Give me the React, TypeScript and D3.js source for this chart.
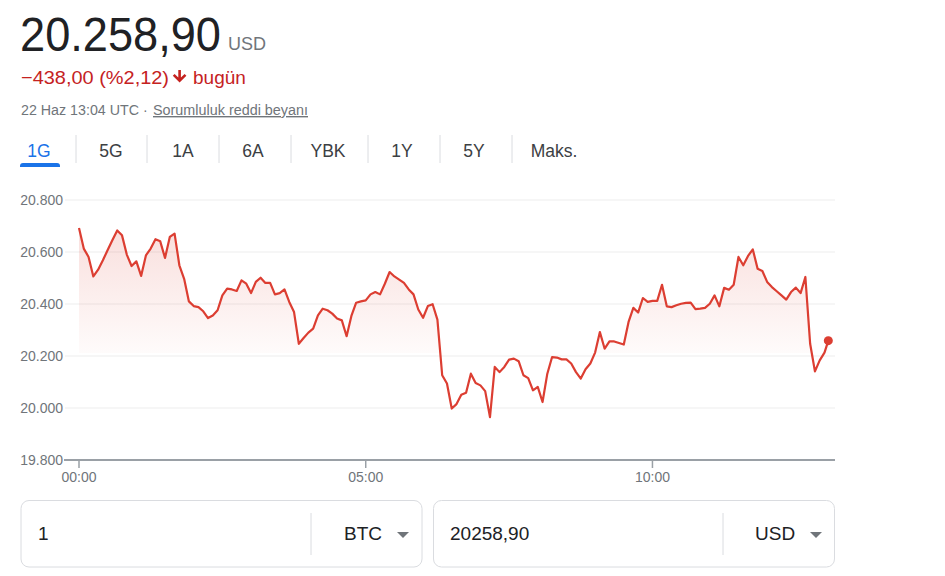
import React from "react";
import * as d3 from "d3";

// minutes since 00:00 UTC, 22 Haz
const minutes: number[] = [
  0, 5, 10, 15, 20, 25, 30, 35, 40, 45, 50, 55, 60, 65, 70, 75, 80, 85, 90, 95,
  100, 105, 110, 115, 120, 125, 130, 135, 140, 145, 150, 155, 160, 165, 170, 175, 180, 185, 190, 195,
  200, 205, 210, 215, 220, 225, 230, 235, 240, 245, 250, 255, 260, 265, 270, 275, 280, 285, 290, 295,
  300, 305, 310, 315, 320, 325, 330, 335, 340, 345, 350, 355, 360, 365, 370, 375, 380, 385, 390, 395,
  400, 405, 410, 415, 420, 425, 430, 435, 440, 445, 450, 455, 460, 465, 470, 475, 480, 485, 490, 495,
  500, 505, 510, 515, 520, 525, 530, 535, 540, 545, 550, 555, 560, 565, 570, 575, 580, 585, 590, 595,
  600, 605, 610, 615, 620, 625, 630, 635, 640, 645, 650, 655, 660, 665, 670, 675, 680, 685, 690, 695,
  700, 705, 710, 715, 720, 725, 730, 735, 740, 745, 750, 755, 760, 765, 770, 775, 780, 784,
];

// BTC price in USD
const prices: number[] = [
  20692, 20613, 20581, 20506, 20532, 20568, 20608, 20646, 20683, 20664, 20590, 20546, 20564, 20508, 20587, 20613, 20649, 20641, 20577, 20658,
  20671, 20549, 20497, 20410, 20392, 20388, 20372, 20346, 20356, 20376, 20433, 20459, 20456, 20450, 20491, 20478, 20442, 20485, 20501, 20481,
  20481, 20437, 20442, 20456, 20408, 20369, 20247, 20269, 20290, 20305, 20356, 20382, 20376, 20363, 20344, 20337, 20276, 20354, 20405, 20410,
  20414, 20437, 20446, 20437, 20478, 20523, 20506, 20494, 20481, 20456, 20437, 20379, 20347, 20392, 20399, 20340, 20126, 20094, 19998, 20015,
  20051, 20059, 20132, 20096, 20087, 20065, 19965, 20158, 20138, 20158, 20186, 20190, 20180, 20126, 20115, 20068, 20081, 20023, 20132, 20196,
  20194, 20187, 20187, 20171, 20138, 20113, 20149, 20171, 20213, 20292, 20228, 20256, 20256, 20250, 20244, 20331, 20385, 20367, 20423, 20408,
  20412, 20412, 20474, 20391, 20388, 20395, 20401, 20404, 20405, 20380, 20382, 20385, 20401, 20433, 20391, 20462, 20455, 20474, 20581, 20549,
  20585, 20610, 20536, 20527, 20485, 20465, 20449, 20433, 20417, 20446, 20463, 20442, 20504, 20247, 20141, 20183, 20213, 20258.9,
];

const yTicks: number[] = [19800, 20000, 20200, 20400, 20600, 20800];
const xTicks: number[] = [0, 300, 600];
const xTickLabels: string[] = ["00:00", "05:00", "10:00"];
const tabs: string[] = ["1G", "5G", "1A", "6A", "YBK", "1Y", "5Y", "Maks."];
const tabCenters: number[] = [39, 111, 183, 253, 328, 402, 474, 554];
const tabSeps: number[] = [76, 147, 219, 291, 368, 440, 512];

const FONT = "Arial, 'Liberation Sans', sans-serif";
const RED_LINE = "#dc3e32";

export default function App() {
  const x = d3.scaleLinear().domain([0, 791]).range([79, 835]);
  const y = d3.scaleLinear().domain([19800, 20800]).range([460, 200]);
  const data = minutes.map((m, i) => ({ m, v: prices[i] }));
  const fillBase = 353;

  const line = d3
    .line<{ m: number; v: number }>()
    .x((d) => x(d.m))
    .y((d) => y(d.v));
  const area = d3
    .area<{ m: number; v: number }>()
    .x((d) => x(d.m))
    .y0(fillBase)
    .y1((d) => y(d.v));

  const fmtY = (v: number) => d3.format(",")(v).replace(/,/g, ".");
  const last = data[data.length - 1];

  return (
    <svg
      width={945}
      height={576}
      style={{ position: "absolute", left: 0, top: 0, background: "#fff" }}
      fontFamily={FONT}
    >
      <defs>
        <linearGradient id="fillGrad" gradientUnits="userSpaceOnUse" x1={0} y1={200} x2={0} y2={fillBase}>
          <stop offset="0%" stopColor={RED_LINE} stopOpacity={0.2} />
          <stop offset="100%" stopColor={RED_LINE} stopOpacity={0.02} />
        </linearGradient>
        <clipPath id="fillClip">
          <rect x={0} y={0} width={945} height={fillBase} />
        </clipPath>
      </defs>

      {/* Header */}
      <text x={20} y={51} fontSize={48} fill="#202124" textLength={201} lengthAdjust="spacingAndGlyphs">
        20.258,90
      </text>
      <text x={228} y={50} fontSize={18} fill="#70757a">
        USD
      </text>
      <text x={21} y={84} fontSize={19} fill="#c5221f" textLength={148} lengthAdjust="spacingAndGlyphs">
        −438,00 (%2,12)
      </text>
      <path
        d="M178.3 70 h2.6 v7.6 l3.7 -3.7 1.8 1.8 -6.8 6.8 -6.8 -6.8 1.8 -1.8 3.7 3.7 z"
        fill="#c5221f"
      />
      <text x={193} y={84} fontSize={19} fill="#c5221f">
        bugün
      </text>
      <text x={21} y={115} fontSize={14} fill="#70757a" textLength={118} lengthAdjust="spacingAndGlyphs">
        22 Haz 13:04 UTC
      </text>
      <text x={143} y={115} fontSize={14} fill="#70757a">
        ·
      </text>
      <text
        x={153}
        y={115}
        fontSize={14}
        fill="#70757a"
        textDecoration="underline"
        textLength={155}
        lengthAdjust="spacingAndGlyphs"
      >
        Sorumluluk reddi beyanı
      </text>

      {/* Tabs */}
      {tabs.map((t, i) => (
        <text
          key={t}
          x={tabCenters[i]}
          y={157}
          fontSize={17.5}
          textAnchor="middle"
          fill={i === 0 ? "#1a73e8" : "#3c4043"}
        >
          {t}
        </text>
      ))}
      {tabSeps.map((sx) => (
        <line key={sx} x1={sx} x2={sx} y1={135} y2={163} stroke="#dadce0" strokeWidth={1} />
      ))}
      <path d="M20 167 v-1 a3 3 0 0 1 3 -3 h34 a3 3 0 0 1 3 3 v1 z" fill="#1a73e8" />

      {/* Gridlines & y labels */}
      {yTicks.map((t) => (
        <g key={t}>
          {t !== 19800 && (
            <line x1={65} x2={835} y1={y(t)} y2={y(t)} stroke="#f3f3f3" strokeWidth={1.5} />
          )}
          <text x={63} y={y(t) + 5} fontSize={14} fill="#70757a" textAnchor="end">
            {fmtY(t)}
          </text>
        </g>
      ))}

      {/* Area & line */}
      <path d={area(data) ?? ""} fill="url(#fillGrad)" clipPath="url(#fillClip)" />
      <path d={line(data) ?? ""} fill="none" stroke={RED_LINE} strokeWidth={2.2} strokeLinejoin="round" />
      <circle cx={x(last.m)} cy={y(last.v)} r={4.5} fill={RED_LINE} />

      {/* X axis */}
      <line x1={64} x2={835} y1={y(19800)} y2={y(19800)} stroke="#9aa0a6" strokeWidth={2} />
      {xTicks.map((t, i) => (
        <g key={t}>
          <line x1={x(t)} x2={x(t)} y1={y(19800)} y2={y(19800) + 8} stroke="#9aa0a6" strokeWidth={1.5} />
          <text x={x(t)} y={482} fontSize={14} fill="#70757a" textAnchor="middle">
            {xTickLabels[i]}
          </text>
        </g>
      ))}

      {/* Converter */}
      <rect x={21} y={500.5} width={401} height={66.5} rx={8} fill="none" stroke="#dadce0" strokeWidth={1} />
      <line x1={311} x2={311} y1={513} y2={555} stroke="#dadce0" strokeWidth={1} />
      <text x={38} y={540} fontSize={19} fill="#202124">
        1
      </text>
      <text x={344} y={540} fontSize={19} fill="#202124">
        BTC
      </text>
      <path d="M397 532 h12 l-6 6 z" fill="#70757a" />

      <rect x={433.5} y={500.5} width={401} height={66.5} rx={8} fill="none" stroke="#dadce0" strokeWidth={1} />
      <line x1={723} x2={723} y1={513} y2={555} stroke="#dadce0" strokeWidth={1} />
      <text x={450} y={540} fontSize={19} fill="#202124">
        20258,90
      </text>
      <text x={755} y={540} fontSize={19} fill="#202124">
        USD
      </text>
      <path d="M810 532 h12 l-6 6 z" fill="#70757a" />
    </svg>
  );
}
